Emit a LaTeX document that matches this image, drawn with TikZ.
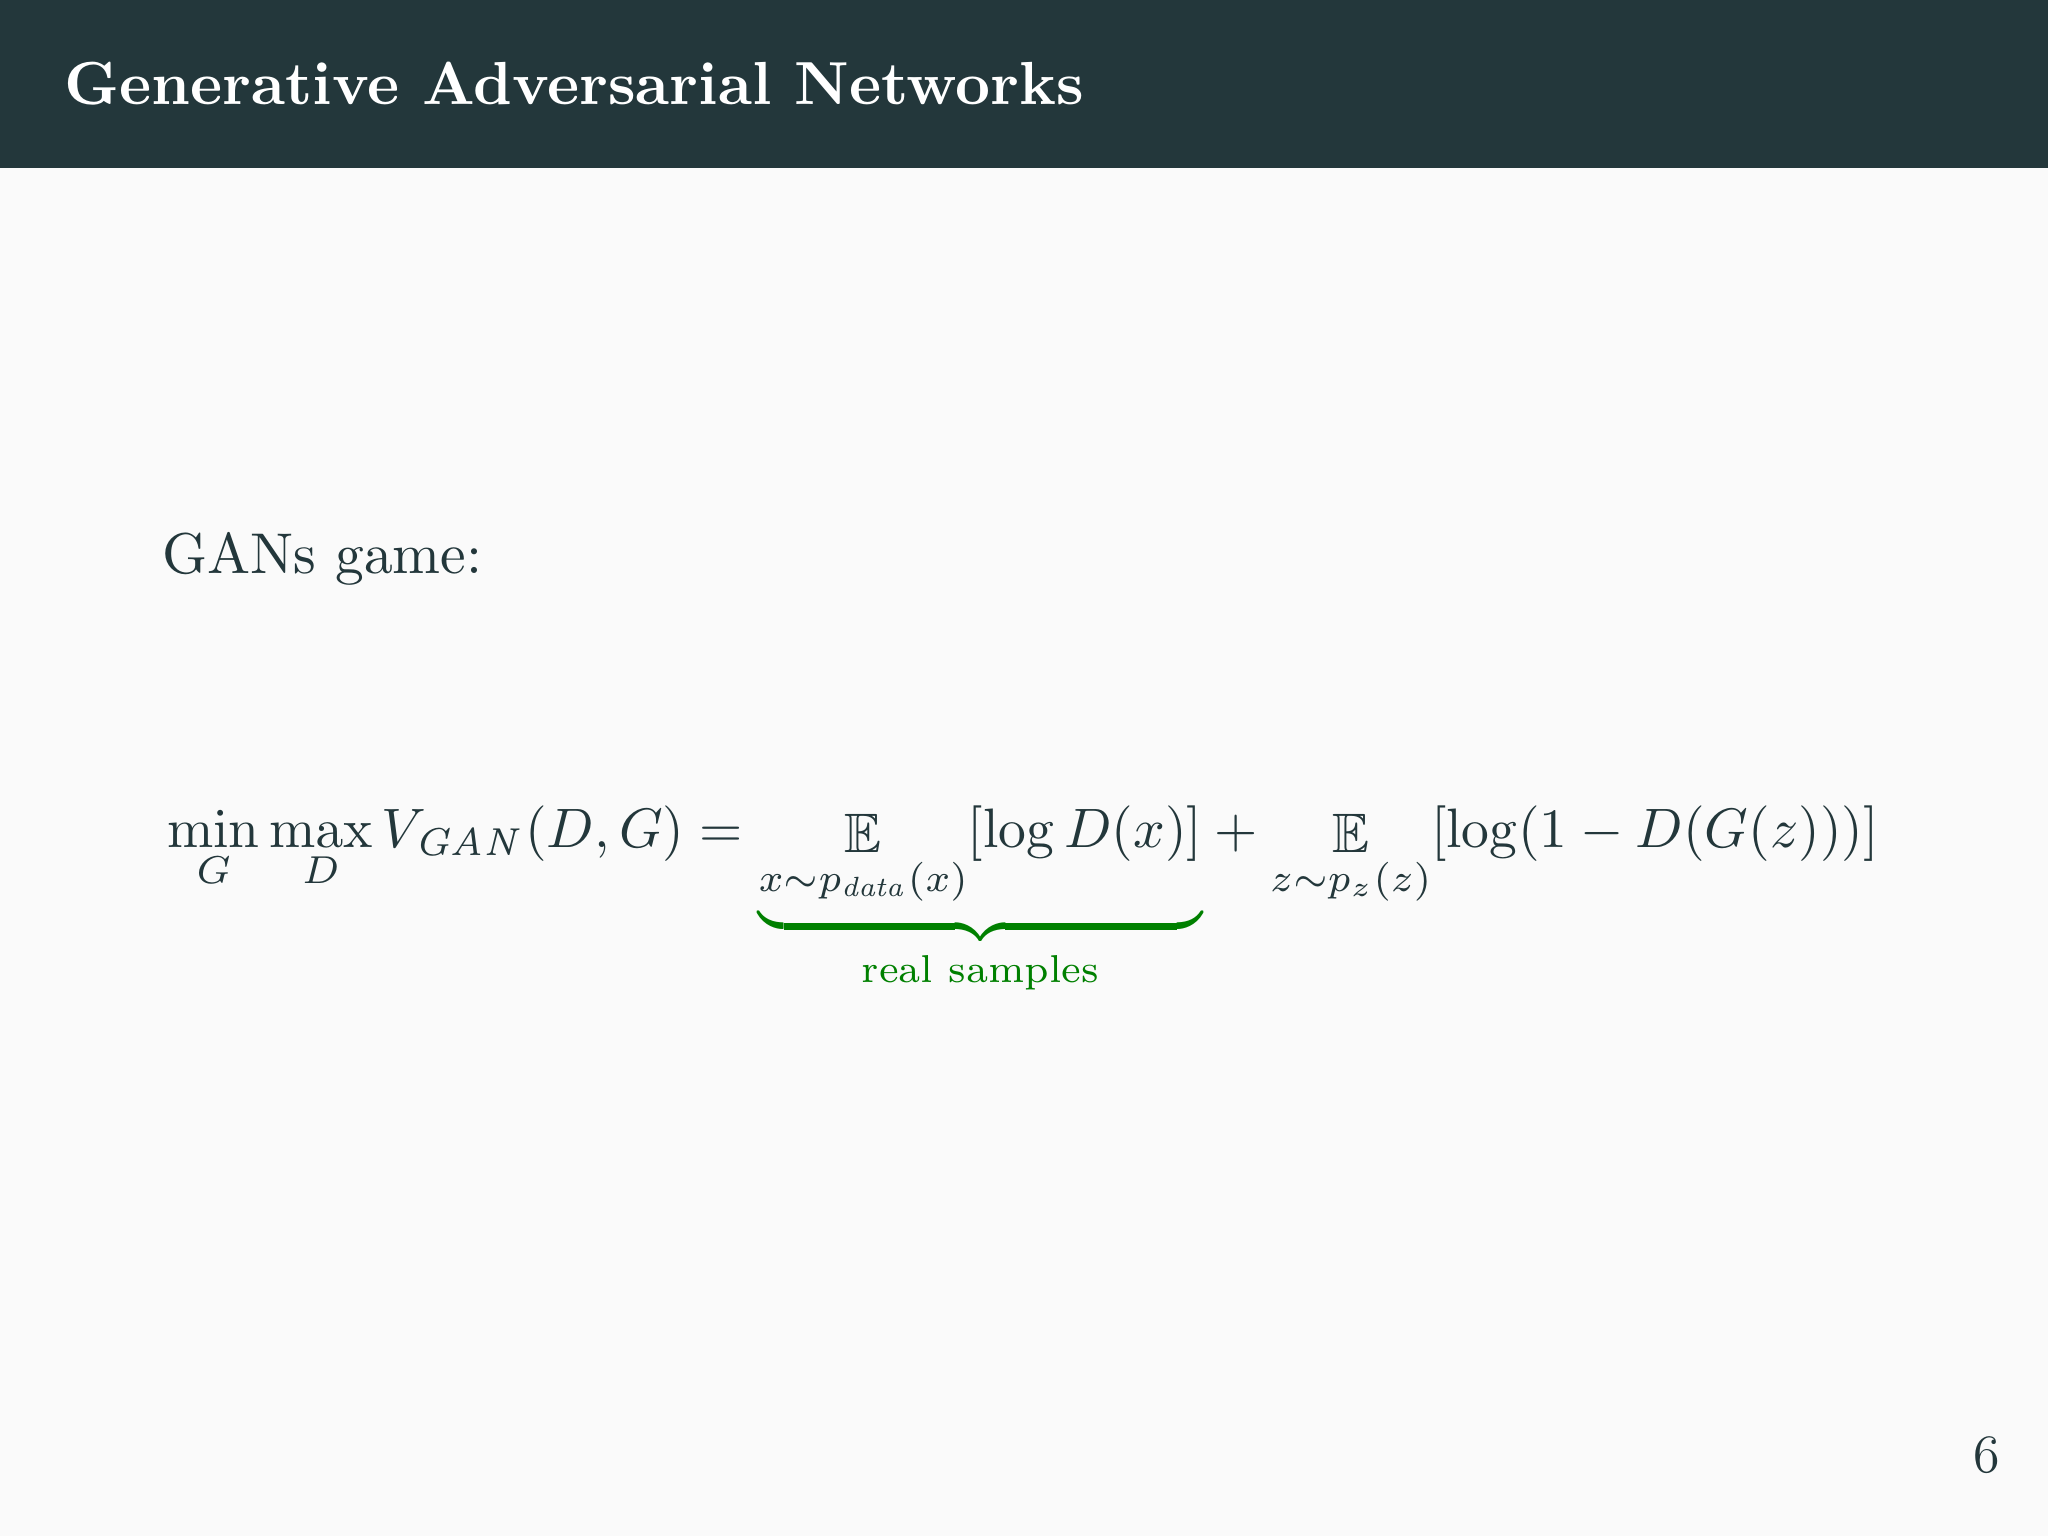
\documentclass[tikz,border=0pt]{standalone}
\usepackage{amsmath,amssymb}
\usepackage{graphicx}
\definecolor{hdr}{HTML}{23373B}
\definecolor{bgc}{HTML}{FAFAFA}
\definecolor{grn}{RGB}{0,128,0}
\begin{document}
\begin{tikzpicture}[x=1cm,y=1cm]
\useasboundingbox (0,0) rectangle (16,12);
\fill[bgc] (0,0) rectangle (16,12);
\fill[hdr] (0,10.684) rectangle (16,12);
\node[anchor=base west,inner sep=0,text=white] (title) at (0.5,11.18)
  {\resizebox{7.96cm}{!}{\bfseries Generative Adversarial Networks}};
\node[anchor=base west,inner sep=0,text=hdr] (game) at (1.26,7.52)
  {\resizebox{2.5cm}{!}{GANs game:}};
\node[anchor=base west,inner sep=0,text=hdr] (eq) at (1.30,5.38)
  {\resizebox{13.37cm}{!}{$\displaystyle \min_G\max_D V_{\mathit{GAN}}(D,G) = {\color{grn}\underbrace{\color{hdr}\mathop{\mathbb{E}}_{x\sim p_{\mathit{data}}(x)}[\log D(x)]}_{\text{real samples}}} + \mathop{\mathbb{E}}_{z\sim p_z(z)}[\log(1-D(G(z)))]$}};
\node[anchor=base east,inner sep=0,text=hdr] (pg) at (15.63,0.5) {\large 6};
\end{tikzpicture}
\end{document}
